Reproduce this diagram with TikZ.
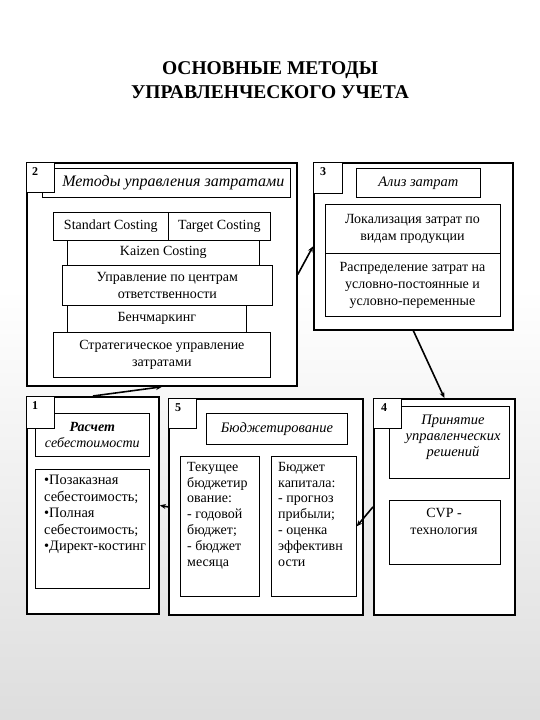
\documentclass[tikz,border=0pt]{standalone}
\usepackage{fontspec}
\setmainfont{Liberation Serif}
\usetikzlibrary{arrows.meta}
\pgfdeclareverticalshading{bgshade}{100bp}{color(0bp)=(black!24); color(55bp)=(white); color(84bp)=(white); color(100bp)=(black!7)}
\tikzset{
  outerbox/.style={draw, line width=1.8pt, fill=white, anchor=north west, inner sep=0pt},
  inbox/.style={draw, line width=0.7pt, fill=white, anchor=north west, inner sep=0pt, align=center, font=\bodyfont},
  numbox/.style={draw, line width=0.7pt, fill=white, anchor=north west, minimum width=28pt, minimum height=30pt, inner sep=0pt},
  numtext/.style={anchor=north west, inner sep=0pt, font=\bfseries\fontsize{12}{14}\selectfont},
  txt/.style={inner sep=0pt, align=center, font=\bodyfont},
  ltxt/.style={inner sep=0pt, align=left, anchor=north west, font=\bodyfont},
  conn/.style={line width=1.6pt, -{Stealth[length=6pt,width=5pt]}},
}
\newcommand\bodyfont{\fontsize{14}{17}\selectfont}
\newcommand\headfont{\itshape\fontsize{14.5}{16}\selectfont}
\begin{document}
\begin{tikzpicture}[x=1pt,y=-1pt]
\useasboundingbox (0,0) rectangle (540,720);
\shade[shading=bgshade] (0,0) rectangle (540,720);
% title
\node[align=center, font=\bfseries\fontsize{19.5}{24}\selectfont] (title) at (270,80) {ОСНОВНЫЕ МЕТОДЫ\\УПРАВЛЕНЧЕСКОГО УЧЕТА};

% ---------------- box 2
\node[outerbox, minimum width=270pt, minimum height=223pt] (b2) at (26,162) {};
\node[inbox, minimum width=248pt, minimum height=29pt, font=\itshape\fontsize{16}{18}\selectfont] (t2) at (42,168) {\hspace*{14pt}Методы управления затратами};
\node[numbox] (n2) at (26,162) {};
\node[numtext] (n2t) at (32,167) {2};
\node[inbox, minimum width=115pt, minimum height=28pt] (sc) at (53,212) {Standart Costing};
\node[inbox, minimum width=102pt, minimum height=28pt] (tc) at (168,212) {Target Costing};
\node[inbox, minimum width=192pt, minimum height=25pt] (kc) at (67,240) {Kaizen Costing};
\node[inbox, minimum width=210pt, minimum height=40pt] (uc) at (62,265) {Управление по центрам\\ответственности};
\node[inbox, minimum width=179pt, minimum height=27pt] (bm) at (67,305) {Бенчмаркинг};
\node[inbox, minimum width=217pt, minimum height=45pt] (su) at (53,332) {Стратегическое управление\\затратами};

% ---------------- box 3
\node[outerbox, minimum width=199pt, minimum height=167pt] (b3) at (313,162) {};
\node[inbox, minimum width=124pt, minimum height=29pt, font=\headfont] (t3) at (356,168) {Ализ затрат};
\node[numbox, minimum width=29pt, minimum height=31pt] (n3) at (313,162) {};
\node[numtext] (n3t) at (320,167) {3};
\node[inbox, minimum width=175pt, minimum height=49pt] (lz) at (325,204) {};
\node[inbox, minimum width=175pt, minimum height=63pt] (rz) at (325,253) {};
\node[txt] (lzt) at (412.5,229) {Локализация затрат по\\видам продукции};
\node[txt] (rzt) at (412.5,285) {Распределение затрат на\\условно-постоянные и\\условно-переменные};

% ---------------- box 1
\node[outerbox, minimum width=132pt, minimum height=217pt] (b1) at (26,396) {};
\node[inbox, minimum width=114pt, minimum height=43pt, font=\itshape\fontsize{14}{16}\selectfont] (t1) at (35,413) {\textbf{Расчет}\\себестоимости};
\node[numbox, minimum height=32pt] (n1) at (26,396) {};
\node[numtext] (n1t) at (32,401) {1};
\node[inbox, minimum width=114pt, minimum height=119pt] (lst) at (35,469) {};
\node[ltxt, font=\fontsize{14.4}{16.5}\selectfont] (lstt) at (44,475) {•Позаказная\\себестоимость;\\•Полная\\себестоимость;\\•Директ-костинг};

% ---------------- box 5
\node[outerbox, minimum width=194pt, minimum height=216pt] (b5) at (168,398) {};
\node[inbox, minimum width=141pt, minimum height=31pt, font=\headfont] (t5) at (206,413) {Бюджетирование};
\node[numbox] (n5) at (168,398) {};
\node[numtext] (n5t) at (175,403) {5};
\node[inbox, minimum width=79pt, minimum height=140pt] (b5l) at (180,456) {};
\node[ltxt, font=\fontsize{14}{15.8}\selectfont] (b5lt) at (187,462) {Текущее\\бюджетир\\ование:\\- годовой\\бюджет;\\- бюджет\\месяца};
\node[inbox, minimum width=85pt, minimum height=140pt] (b5r) at (271,456) {};
\node[ltxt, font=\fontsize{14}{15.8}\selectfont] (b5rt) at (278,462) {Бюджет\\капитала:\\- прогноз\\прибыли;\\- оценка\\эффективн\\ости};

% ---------------- box 4
\node[outerbox, minimum width=141pt, minimum height=216pt] (b4) at (373,398) {};
\node[inbox, minimum width=120pt, minimum height=72pt, font=\headfont] (t4) at (389,406) {};
\node[txt, font=\headfont] (t4t) at (453,437) {Принятие\\управленческих\\решений};
\node[numbox] (n4) at (373,398) {};
\node[numtext] (n4t) at (381,403) {4};
\node[inbox, minimum width=111pt, minimum height=64pt] (cvp) at (389,500) {};
\node[txt] (cvpt) at (444,521) {CVP -\\технология};

% ---------------- connectors
\draw[conn] (b1.north) -- (b2.south);
\draw[conn] (b2.east) -- (b3.west);
\draw[conn] (b3.south) -- (b4.north);
\draw[conn] (b4.west) -- (b5r.east);
\draw[conn] (b5.west) -- (b1.east);
\end{tikzpicture}
\end{document}
